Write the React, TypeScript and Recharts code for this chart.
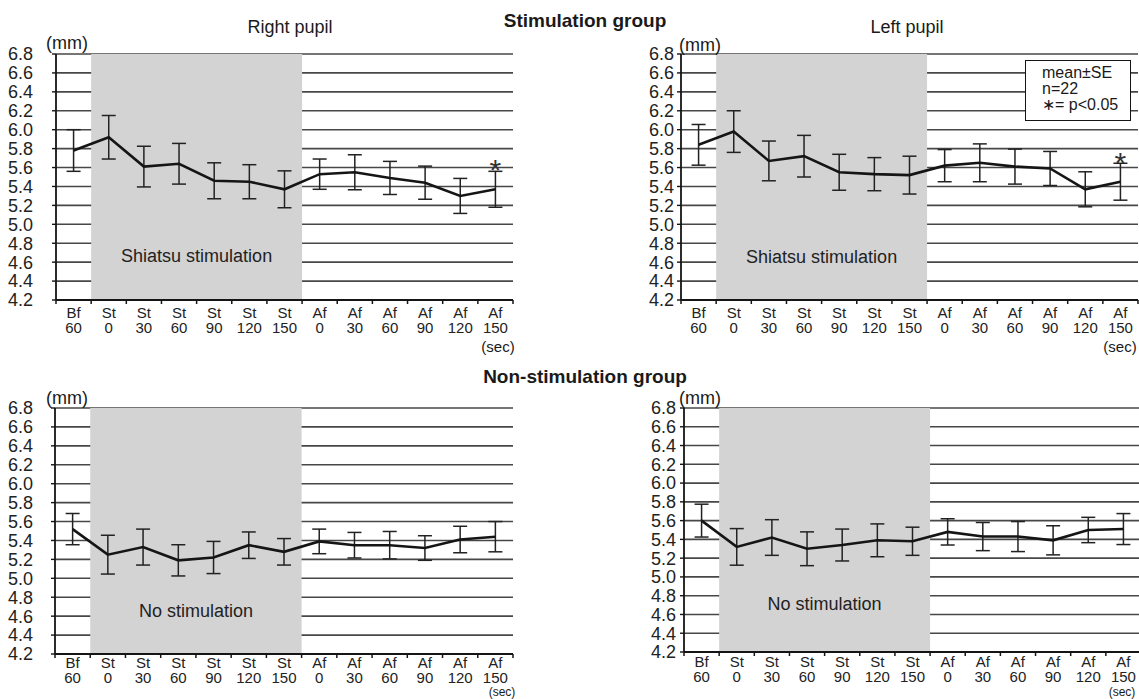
import {
  LineChart,
  Line,
  XAxis,
  YAxis,
  CartesianGrid,
  ReferenceArea,
  ErrorBar,
  LabelList,
} from 'recharts'

const categories = ['Bf 60', 'St 0', 'St 30', 'St 60', 'St 90', 'St 120', 'St 150', 'Af 0', 'Af 30', 'Af 60', 'Af 90', 'Af 120', 'Af 150']
const yTicks = [4.2, 4.4, 4.6, 4.8, 5.0, 5.2, 5.4, 5.6, 5.8, 6.0, 6.2, 6.4, 6.6, 6.8]

// Stimulation group
const stimRightMean = [5.78, 5.92, 5.61, 5.64, 5.46, 5.45, 5.37, 5.53, 5.55, 5.49, 5.44, 5.3, 5.37]
const stimRightSE = [0.22, 0.23, 0.215, 0.215, 0.19, 0.18, 0.195, 0.16, 0.185, 0.175, 0.175, 0.185, 0.19]
const stimLeftMean = [5.84, 5.98, 5.67, 5.72, 5.55, 5.53, 5.52, 5.62, 5.65, 5.61, 5.59, 5.37, 5.45]
const stimLeftSE = [0.215, 0.22, 0.21, 0.22, 0.19, 0.175, 0.2, 0.17, 0.2, 0.185, 0.18, 0.185, 0.195]
const stimSig = [false, false, false, false, false, false, false, false, false, false, false, false, true]

// Non-stimulation group
const nonRightMean = [5.52, 5.25, 5.33, 5.19, 5.22, 5.35, 5.28, 5.39, 5.35, 5.35, 5.32, 5.41, 5.44]
const nonRightSE = [0.165, 0.205, 0.19, 0.165, 0.17, 0.14, 0.14, 0.13, 0.135, 0.145, 0.13, 0.14, 0.16]
const nonLeftMean = [5.6, 5.32, 5.42, 5.3, 5.34, 5.39, 5.38, 5.48, 5.43, 5.43, 5.39, 5.5, 5.51]
const nonLeftSE = [0.175, 0.195, 0.19, 0.18, 0.17, 0.175, 0.15, 0.14, 0.15, 0.16, 0.155, 0.135, 0.165]
const nonSig = [false, false, false, false, false, false, false, false, false, false, false, false, false]

const FONT = '"Liberation Sans", Arial, Helvetica, sans-serif'
const INK = '#151515'

function CatTick(props: any) {
  const { x, y, payload, index, bw, rowTop } = props
  const [top, bottom] = String(payload.value).split(' ')
  return (
    <g>
      <line x1={x - bw / 2} x2={x - bw / 2} y1={y} y2={y + 4} stroke={INK} strokeWidth={1.5} />
      {index === categories.length - 1 && (
        <line x1={x + bw / 2} x2={x + bw / 2} y1={y} y2={y + 4} stroke={INK} strokeWidth={1.5} />
      )}
      <text x={x} y={y + rowTop} textAnchor="middle" fontSize={15} fill="#222">
        {top}
      </text>
      <text x={x} y={y + rowTop + 15} textAnchor="middle" fontSize={15} fill="#222">
        {bottom}
      </text>
    </g>
  )
}

function Asterisk(props: any) {
  const { value, viewBox } = props
  if (!value) return null
  const x = props.x ?? viewBox?.x
  const y = props.y ?? viewBox?.y
  return (
    <text x={x} y={y - 9} textAnchor="middle" fontSize={30} fill="#333">
      *
    </text>
  )
}

type PanelProps = {
  left: number
  top: number
  width: number
  height: number
  marginTop: number
  marginRight: number
  yWidth: number
  xHeight: number
  yTickMargin: number
  rowTop: number
  means: number[]
  ses: number[]
  sig: boolean[]
  areaText: string
  areaOffset: number
}

function Panel(p: PanelProps) {
  const data = categories.map((c, i) => ({ cat: c, mean: p.means[i], se: p.ses[i], sig: p.sig[i] }))
  const plotW = p.width - p.yWidth - p.marginRight
  const bw = plotW / categories.length
  return (
    <div style={{ position: 'absolute', left: p.left, top: p.top }}>
      <LineChart
        width={p.width}
        height={p.height}
        data={data}
        margin={{ top: p.marginTop, right: p.marginRight, bottom: 0, left: 0 }}
      >
        <ReferenceArea
          x1="St 0"
          x2="St 150"
          fill="#d3d3d3"
          fillOpacity={1}
          stroke="none"
          label={{ value: p.areaText, position: 'insideBottom', offset: p.areaOffset, fill: '#222', fontSize: 18 }}
        />
        <CartesianGrid vertical={false} stroke="#474747" strokeWidth={1.6} />
        <XAxis
          dataKey="cat"
          scale="band"
          interval={0}
          height={p.xHeight}
          tickSize={0}
          tickMargin={0}
          tickLine={false}
          axisLine={{ stroke: INK, strokeWidth: 1.8 }}
          tick={(t: any) => <CatTick {...t} bw={bw} rowTop={p.rowTop} />}
        />
        <XAxis
          xAxisId="top"
          orientation="top"
          dataKey="cat"
          scale="band"
          height={0}
          tick={false}
          tickLine={false}
          axisLine={{ stroke: INK, strokeWidth: 1.8 }}
        />
        <YAxis
          type="number"
          domain={[4.2, 6.8]}
          ticks={yTicks}
          interval={0}
          width={p.yWidth}
          tickSize={4}
          tickMargin={p.yTickMargin}
          tickFormatter={(v: number) => v.toFixed(1)}
          tick={{ fill: '#222', fontSize: 18 }}
          tickLine={{ stroke: INK, strokeWidth: 1.4 }}
          axisLine={{ stroke: INK, strokeWidth: 1.8 }}
        />
        <YAxis
          yAxisId="r"
          orientation="right"
          type="number"
          domain={[4.2, 6.8]}
          width={0}
          tick={false}
          tickLine={false}
          axisLine={{ stroke: INK, strokeWidth: 1.8 }}
        />
        <Line
          type="linear"
          dataKey="mean"
          stroke={INK}
          strokeWidth={2.6}
          dot={false}
          activeDot={false}
          isAnimationActive={false}
        >
          <ErrorBar dataKey="se" direction="y" width={7} stroke="#222" strokeWidth={1.5} isAnimationActive={false} />
          <LabelList dataKey="sig" content={Asterisk} />
        </Line>
      </LineChart>
    </div>
  )
}

function Caption({ x, y, text, size, bold }: { x: number; y: number; text: string; size: number; bold?: boolean }) {
  return (
    <div
      style={{
        position: 'absolute',
        left: x,
        top: y,
        transform: 'translate(-50%, -50%)',
        whiteSpace: 'nowrap',
        lineHeight: 1,
        fontSize: size,
        fontWeight: bold ? 'bold' : 'normal',
        color: '#1a1a1a',
      }}
    >
      {text}
    </div>
  )
}

export default function App() {
  return (
    <div
      style={{
        position: 'absolute',
        left: 0,
        top: 0,
        width: 1139,
        height: 699,
        overflow: 'hidden',
        background: '#fff',
        fontFamily: FONT,
      }}
    >
      <Panel left={0} top={0} width={540} height={350} marginTop={54} marginRight={27} yWidth={56} xHeight={50} yTickMargin={19} rowTop={18}
        means={stimRightMean} ses={stimRightSE} sig={stimSig} areaText="Shiatsu stimulation" areaOffset={38} />
      <Panel left={600} top={0} width={548} height={350} marginTop={54} marginRight={10} yWidth={81} xHeight={50} yTickMargin={3} rowTop={18}
        means={stimLeftMean} ses={stimLeftSE} sig={stimSig} areaText="Shiatsu stimulation" areaOffset={37} />
      <Panel left={0} top={350} width={540} height={349} marginTop={58} marginRight={27} yWidth={55} xHeight={45} yTickMargin={18} rowTop={14}
        means={nonRightMean} ses={nonRightSE} sig={nonSig} areaText="No stimulation" areaOffset={37} />
      <Panel left={600} top={350} width={551} height={349} marginTop={58} marginRight={10} yWidth={84} xHeight={47} yTickMargin={4} rowTop={15}
        means={nonLeftMean} ses={nonLeftSE} sig={nonSig} areaText="No stimulation" areaOffset={42} />

      <Caption x={585} y={20} text="Stimulation group" size={19} bold />
      <Caption x={585} y={376} text="Non-stimulation group" size={19} bold />
      <Caption x={290} y={27} text="Right pupil" size={18} />
      <Caption x={907} y={27} text="Left pupil" size={18} />

      <Caption x={67} y={43} text="(mm)" size={18} />
      <Caption x={700} y={45} text="(mm)" size={18} />
      <Caption x={67} y={398} text="(mm)" size={18} />
      <Caption x={700} y={398} text="(mm)" size={18} />

      <Caption x={498} y={346} text="(sec)" size={15} />
      <Caption x={1120} y={346} text="(sec)" size={15} />
      <Caption x={502} y={692} text="(sec)" size={12} />
      <Caption x={1122} y={692} text="(sec)" size={12} />

      <div
        style={{
          position: 'absolute',
          left: 1025,
          top: 60,
          width: 106,
          height: 61,
          boxSizing: 'border-box',
          border: `1.5px solid ${INK}`,
          background: '#fff',
          paddingLeft: 16,
          paddingTop: 4,
          fontSize: 16,
          lineHeight: '16px',
          color: '#1a1a1a',
          whiteSpace: 'nowrap',
        }}
      >
        <div>mean±SE</div>
        <div>n=22</div>
        <div>∗= p&lt;0.05</div>
      </div>
    </div>
  )
}
